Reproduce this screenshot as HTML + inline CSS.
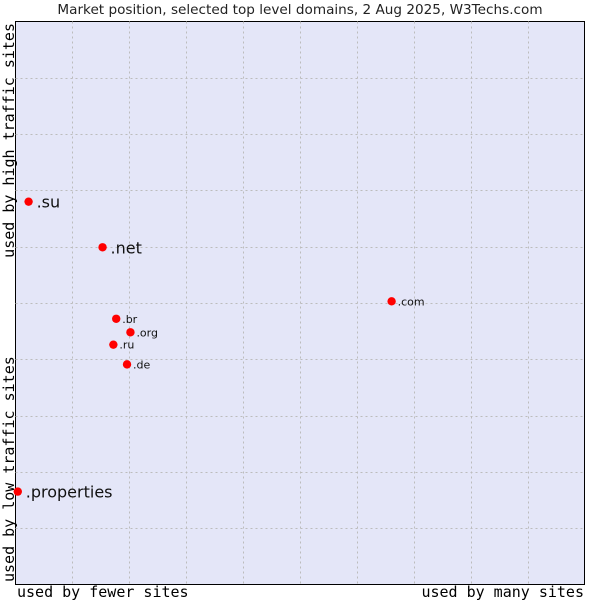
<!DOCTYPE html>
<html><head><meta charset="utf-8"><style>
body{margin:0;background:#fff;}
svg{display:block;}
</style></head><body>
<svg id="chart" width="600" height="600" xmlns="http://www.w3.org/2000/svg">
<text x="300" y="14" text-anchor="middle" font-family="DejaVu Sans, sans-serif" font-size="13.6" fill="#222">Market position, selected top level domains, 2 Aug 2025, W3Techs.com</text>
<rect x="15.5" y="21.5" width="569" height="563" fill="#e4e6f8" stroke="#000" stroke-width="1"/>
<g id="grid"></g>
<g id="marks"></g>
<text x="17" y="597" font-family="DejaVu Sans Mono, monospace" font-size="15" fill="#000">used by fewer sites</text>
<text x="584" y="597" text-anchor="end" font-family="DejaVu Sans Mono, monospace" font-size="15" fill="#000">used by many sites</text>
<text transform="translate(14,23) rotate(-90)" text-anchor="end" font-family="DejaVu Sans Mono, monospace" font-size="15" fill="#000">used by high traffic sites</text>
<text transform="translate(14,582) rotate(-90)" font-family="DejaVu Sans Mono, monospace" font-size="15" fill="#000">used by low traffic sites</text>
</svg>
<script>
const labels = [".su", ".net", ".com", ".br", ".org", ".ru", ".de", ".properties"];
const xValues = [2.3, 15.3, 66.1, 17.7, 20.2, 17.2, 19.6, 0.4];
const yValues = [68.0, 59.9, 50.3, 47.2, 44.8, 42.6, 39.1, 16.5];
const bigLabel = [true, true, false, false, false, false, false, true];
const gridTicks = [10, 20, 30, 40, 50, 60, 70, 80, 90];

const L = 15.5, R = 584.5, T = 21.5, B = 584.5;
const sx = v => L + (R - L) * v / 100;
const sy = v => B - (B - T) * v / 100;
const NS = "http://www.w3.org/2000/svg";
const grid = document.getElementById('grid');
const marks = document.getElementById('marks');

gridTicks.forEach(t => {
  const v = document.createElementNS(NS, 'line');
  
  
  const x = Math.round(sx(t)) + 0.5;
  v.setAttribute('x1', x); v.setAttribute('x2', x);
  v.setAttribute('y1', T); v.setAttribute('y2', B);
  v.setAttribute('stroke', '#bcbcbc'); v.setAttribute('stroke-dasharray', '2,3');
  grid.appendChild(v);
  const h = document.createElementNS(NS, 'line');
  
  
  const y = Math.round(sy(t)) + 0.5;
  h.setAttribute('y1', y); h.setAttribute('y2', y);
  h.setAttribute('x1', L); h.setAttribute('x2', R);
  h.setAttribute('stroke', '#bcbcbc'); h.setAttribute('stroke-dasharray', '2,3');
  grid.appendChild(h);
});

labels.forEach((lab, i) => {
  const cx = sx(xValues[i]), cy = sy(yValues[i]);
  const c = document.createElementNS(NS, 'circle');
  
  
  c.setAttribute('cx', cx); c.setAttribute('cy', cy); c.setAttribute('r', 4.2);
  c.setAttribute('fill', '#ff0000');
  marks.appendChild(c);
  const t = document.createElementNS(NS, 'text');
  
  
  t.setAttribute('x', cx + (bigLabel[i] ? 8 : 6));
  t.setAttribute('y', cy + (bigLabel[i] ? 6 : 4));
  t.setAttribute('font-family', 'DejaVu Sans, sans-serif');
  t.setAttribute('font-size', bigLabel[i] ? 16 : 11);
  t.setAttribute('fill', '#111');
  t.textContent = lab;
  marks.appendChild(t);
});
</script>
</body></html>
